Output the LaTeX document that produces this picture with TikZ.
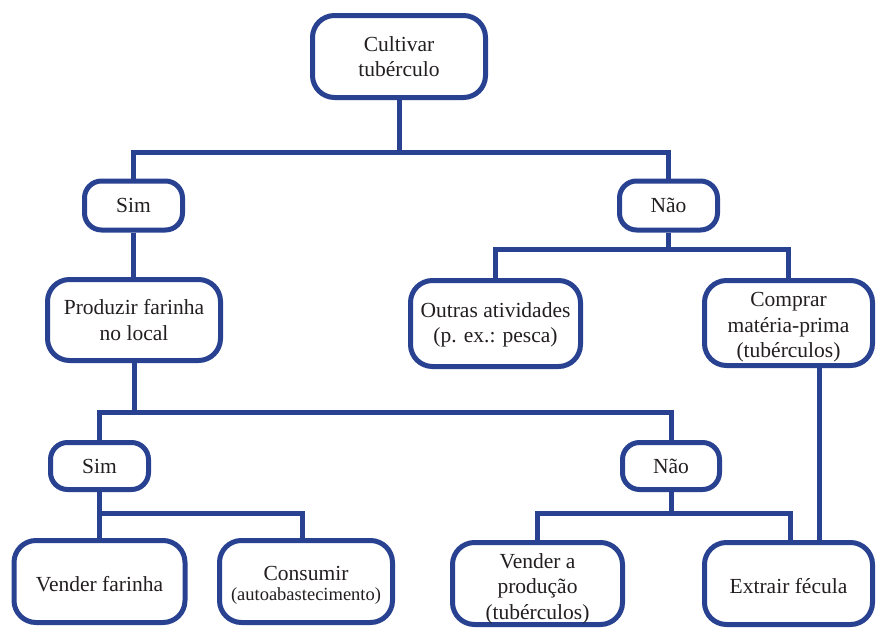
\documentclass[tikz,border=0pt]{standalone}
\usepackage{fontspec}
\setmainfont{Liberation Serif}
\definecolor{dblue}{RGB}{40,66,145}
\definecolor{txt}{RGB}{35,31,32}
\newcommand{\lowr}[1]{\rule{0pt}{#1pt}}
\begin{document}
\begin{tikzpicture}[x=1pt,y=-1pt,
  box/.style={draw=dblue, line width=5pt, rounded corners=22pt, fill=white, text=txt,
    align=center, inner sep=0pt, font=\fontsize{21.5}{25.5}\selectfont},
  smallbox/.style={box, rounded corners=17pt},
  conn/.style={draw=dblue, line width=5pt}]
\useasboundingbox (0,0) rectangle (876,629);

% nodes
\node[box, minimum width=173pt, minimum height=82pt] (top) at (399,56.5) {Cultivar\\tubérculo};
\node[smallbox, minimum width=98pt, minimum height=49pt] (sim1) at (133.5,205.5) {Sim};
\node[smallbox, minimum width=98pt, minimum height=49pt] (nao1) at (668.5,205.5) {Não};
\node[box, minimum width=173pt, minimum height=81pt] (prod) at (134,320) {Produzir farinha\\no local};
\node[box, minimum width=170pt, minimum height=86pt] (outras) at (495.5,323.5) {\lowr{18}Outras atividades\\(p. ex.: pesca)};
\node[box, minimum width=168pt, minimum height=85pt] (compr) at (788.5,323) {\lowr{23}Comprar\\matéria-prima\\(tubérculos)};
\node[smallbox, minimum width=98pt, minimum height=47pt] (sim2) at (99.5,466) {Sim};
\node[smallbox, minimum width=97pt, minimum height=47pt] (nao2) at (671,466) {Não};
\node[box, minimum width=171pt, minimum height=82pt] (vf) at (99.5,581.5) {\lowr{20}Vender farinha};
\node[box, minimum width=173pt, minimum height=82pt] (cons) at (306,581.5) {\lowr{22}Consumir\\[-5pt]{\fontsize{18.5}{21}\selectfont(autoabastecimento)}};
\node[box, minimum width=170pt, minimum height=82pt] (vp) at (537.5,583.5) {\lowr{25}Vender a\\produção\\(tubérculos)};
\node[box, minimum width=168pt, minimum height=82pt] (ex) at (788.5,583.5) {\lowr{21}Extrair fécula};

% buses
\coordinate (b1) at (399,152);
\coordinate (b2) at (668.5,249);
\coordinate (b3) at (134,412);
\coordinate (b4) at (99.5,513);
\coordinate (b5) at (671,513);

\draw[conn] (top.south) -- (b1);
\draw[conn] (sim1.north) |- (b1) -| (nao1.north);
\draw[conn] (sim1.south) -- (sim1.south |- prod.north);

\draw[conn] (nao1.south) -- (b2);
\draw[conn] (outras.north) |- (b2) -| (compr.north);

\draw[conn] (prod.south) -- (b3);
\draw[conn] (sim2.north) |- (b3) -| (nao2.north);

\draw[conn] (sim2.south) -- (b4);
\draw[conn] (vf.north) |- (b4) -| ([xshift=-4pt]cons.north);

\draw[conn] (nao2.south) -- (b5);
\draw[conn] (vp.north) |- (b5) -| ([xshift=2pt]ex.north);

\draw[conn] ([xshift=31pt]compr.south) -- ([xshift=31pt]ex.north);
\end{tikzpicture}
\end{document}
